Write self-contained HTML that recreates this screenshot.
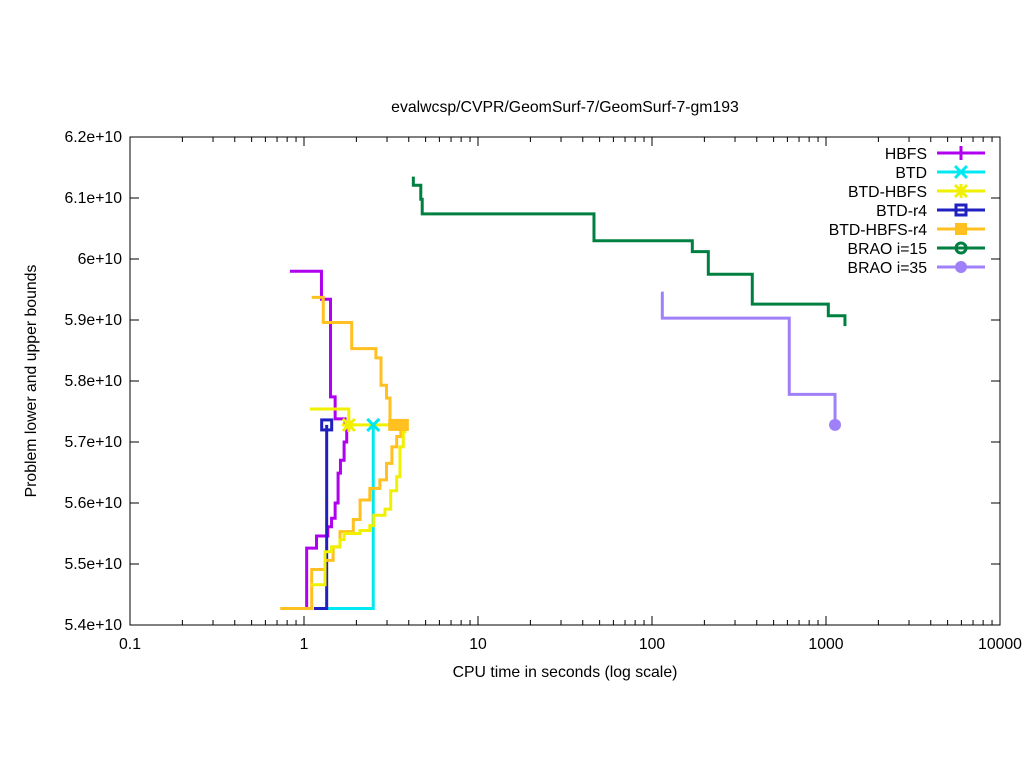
<!DOCTYPE html>
<html><head><meta charset="utf-8"><style>
body{margin:0;background:#fff}
svg{display:block;font-family:"Liberation Sans",sans-serif}
</style></head><body>
<svg id="chart" width="1024" height="768" viewBox="0 0 1024 768">
<rect width="1024" height="768" fill="#fff"/>
<text x="565" y="112" font-size="15.8" text-anchor="middle">evalwcsp/CVPR/GeomSurf-7/GeomSurf-7-gm193</text>
<text x="565" y="677" font-size="15.8" text-anchor="middle">CPU time in seconds (log scale)</text>
<text x="36" y="381" font-size="15.8" text-anchor="middle" transform="rotate(-90 36 381)">Problem lower and upper bounds</text>
<g id="axes"></g><g id="series"></g><g id="legend"></g>
</svg>
<script>
const xTicks=[0.1,1,10,100,1000,10000];
const xTickLabels=["0.1","1","10","100","1000","10000"];
const yTicks=[5.4,5.5,5.6,5.7,5.8,5.9,6.0,6.1,6.2];
const yTickLabels=["5.4e+10","5.5e+10","5.6e+10","5.7e+10","5.8e+10","5.9e+10","6e+10","6.1e+10","6.2e+10"];
const hbfsUpT=[0.83,1.26,1.42,1.51,1.72];
const hbfsUpV=[5.98,5.934,5.774,5.738,5.728];
const hbfsLoT=[1.036,1.036,1.18,1.37,1.44,1.51,1.57,1.62,1.70,1.76];
const hbfsLoV=[5.427,5.526,5.546,5.561,5.575,5.600,5.649,5.670,5.700,5.728];
const btdLoT=[1.35,2.5];
const btdLoV=[5.427,5.728];
const btdhUpT=[1.08,1.81,3.8];
const btdhUpV=[5.754,5.728,5.728];
const btdhLoT=[1.093,1.32,1.44,1.61,1.70,2.10,2.39,2.52,2.92,3.15,3.41,3.56,3.72,3.8];
const btdhLoV=[5.466,5.52,5.528,5.54,5.55,5.555,5.563,5.58,5.59,5.62,5.643,5.692,5.717,5.728];
const btdr4LoT=[1.14,1.35];
const btdr4LoV=[5.427,5.728];
const orUpT=[1.107,1.29,1.88,2.59,2.77,2.98,3.12,3.8];
const orUpV=[5.937,5.896,5.853,5.838,5.793,5.772,5.728,5.728];
const orLoT=[0.73,1.107,1.32,1.47,1.61,1.92,2.1,2.39,2.73,2.98,3.2,3.41,3.6,3.8];
const orLoV=[5.427,5.491,5.506,5.528,5.553,5.573,5.605,5.624,5.638,5.665,5.692,5.709,5.72,5.728];
const b15T=[4.25,4.25,4.69,4.78,46.4,170.5,210.7,377,1031,1285];
const b15V=[6.135,6.121,6.098,6.074,6.030,6.012,5.975,5.926,5.907,5.890];
const b35T=[112.7,114.6,615,1127];
const b35V=[5.944,5.903,5.778,5.728];
const seriesNames=["HBFS","BTD","BTD-HBFS","BTD-r4","BTD-HBFS-r4","BRAO i=15","BRAO i=35"];

const NS="http://www.w3.org/2000/svg";
const L=130,R=1000,T=137,B=625;
function sx(t){return L+(Math.log10(t)+1)*(R-L)/5;}
function sy(v){return B-(v-5.4)*(B-T)/0.8;}
function mk(tag,attrs,parent){const e=document.createElementNS(NS,tag);for(const k in attrs)e.setAttribute(k,attrs[k]);parent.appendChild(e);return e;}
const axes=document.getElementById('axes'),sg=document.getElementById('series'),lg=document.getElementById('legend');
const frame=mk('rect',{x:L,y:T,width:R-L,height:B-T,fill:'none',stroke:'#000','stroke-width':1},axes);


xTicks.forEach((t,i)=>{const x=sx(t);
 const tk=mk('path',{d:`M${x},${B}v-9M${x},${T}v9`,stroke:'#000'},axes);
 
 
 const tx=mk('text',{x:x,y:B+24,'font-size':15.8,'text-anchor':'middle'},axes);tx.textContent=xTickLabels[i];
 
 
 if(i<xTicks.length-1){for(let m=2;m<10;m++){const xm=sx(t*m);
  const mt=mk('path',{d:`M${xm},${B}v-5M${xm},${T}v5`,stroke:'#000'},axes);
  
  }}
});
yTicks.forEach((v,i)=>{const y=sy(v);
 const tk=mk('path',{d:`M${L},${y}h9M${R},${y}h-9`,stroke:'#000'},axes);
 
 
 const tx=mk('text',{x:L-8,y:y+5,'font-size':15.8,'text-anchor':'end'},axes);tx.textContent=yTickLabels[i];
 
 
});
function step(T_,V_,color,name){let d=`M${sx(T_[0])},${sy(V_[0])}`;for(let i=1;i<T_.length;i++)d+=`H${sx(T_[i])}V${sy(V_[i])}`;
 const p=mk('path',{d:d,fill:'none',stroke:color,'stroke-width':3},sg);
 
 }
function marker(type,x,y,color,parent){let e;
 if(type==='plus')e=mk('path',{d:`M${x-7},${y}h14M${x},${y-7}v14`,stroke:color,'stroke-width':3},parent);
 else if(type==='x')e=mk('path',{d:`M${x-6},${y-6}l12,12M${x+6},${y-6}l-12,12`,stroke:color,'stroke-width':3},parent);
 else if(type==='star')e=mk('path',{d:`M${x-6},${y-6}l12,12M${x+6},${y-6}l-12,12M${x-7},${y}h14M${x},${y-7}v14`,stroke:color,'stroke-width':3},parent);
 else if(type==='sq')e=mk('rect',{x:x-5,y:y-5,width:10,height:10,fill:'none',stroke:color,'stroke-width':3},parent);
 else if(type==='fsq')e=mk('rect',{x:x-6,y:y-6,width:12,height:12,fill:color},parent);
 else if(type==='oc')e=mk('circle',{cx:x,cy:y,r:5,fill:'none',stroke:color,'stroke-width':3},parent);
 else e=mk('circle',{cx:x,cy:y,r:6,fill:color},parent);
 
 }
const C={hbfs:'#b000f0',btd:'#00e8f0',btdh:'#f0f000',r4:'#2020c0',or:'#ffc020',g:'#008040',p:'#a080f8'};
step(hbfsUpT,hbfsUpV,C.hbfs,'hbfs-upper');
step(hbfsLoT,hbfsLoV,C.hbfs,'hbfs-lower');
step(btdLoT,btdLoV,C.btd,'btd-lower');
step(btdr4LoT,btdr4LoV,C.r4,'btd-r4-lower');
step(orUpT,orUpV,C.or,'btd-hbfs-r4-upper');
step(orLoT,orLoV,C.or,'btd-hbfs-r4-lower');
step(btdhUpT,btdhUpV,C.btdh,'btd-hbfs-upper');
step(btdhLoT,btdhLoV,C.btdh,'btd-hbfs-lower');
step(b15T,b15V,C.g,'brao-i15-line');
step(b35T,b35V,C.p,'brao-i35-line');
marker('x',sx(btdLoT[1]),sy(btdLoV[1]),C.btd,sg);
marker('star',sx(btdhUpT[1]),sy(btdhUpV[1]),C.btdh,sg);
marker('sq',sx(btdr4LoT[1]),sy(btdr4LoV[1]),C.r4,sg);
marker('fsq',sx(3.3),sy(orUpV[orUpV.length-1]),C.or,sg);
marker('fsq',sx(3.7),sy(orUpV[orUpV.length-1]),C.or,sg);
marker('dot',sx(b35T[b35T.length-1]),sy(b35V[b35V.length-1]),C.p,sg);
const legTypes=['plus','x','star','sq','fsq','oc','dot'];
const legCols=[C.hbfs,C.btd,C.btdh,C.r4,C.or,C.g,C.p];
seriesNames.forEach((n,i)=>{const y=153+i*19;
 const g=mk('g',{},lg);
 
 
 const t=mk('text',{x:927,y:y+6,'font-size':15.8,'text-anchor':'end'},g);t.textContent=n;
 mk('path',{d:`M937,${y}h48`,stroke:legCols[i],'stroke-width':3},g);
 marker(legTypes[i],961,y,legCols[i],g);
});
</script>
</body></html>
